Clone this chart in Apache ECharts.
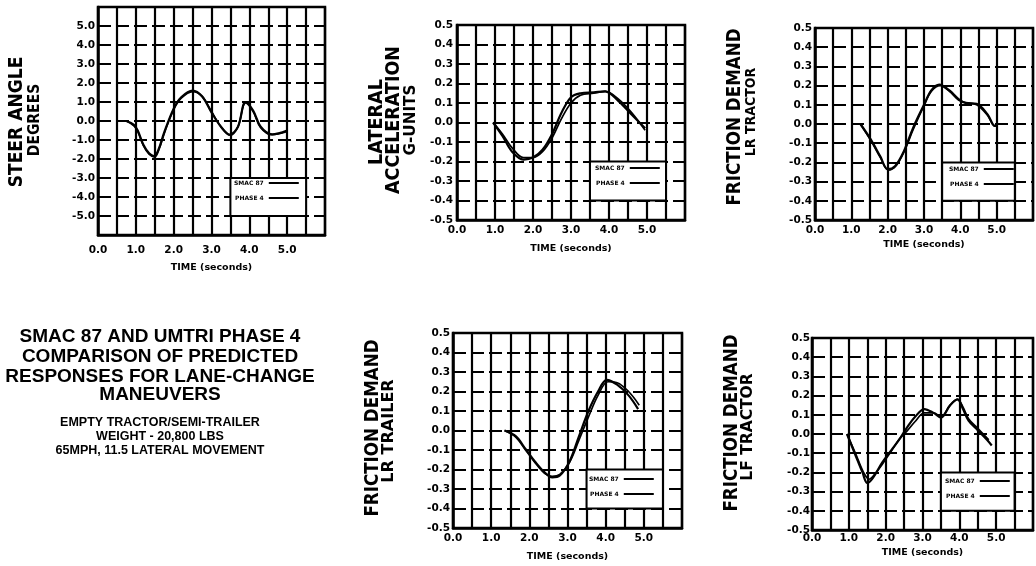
<!DOCTYPE html>
<html><head><meta charset="utf-8">
<script src="https://cdn.jsdelivr.net/npm/echarts@6/dist/echarts.min.js"></script>
<style>html,body{margin:0;padding:0;background:#fff}#c{width:1036px;height:566px}</style>
</head><body><div id="c"></div>
<script>
// ---------- DATA ----------
const seriesNames = ['SMAC 87', 'PHASE 4'];
const timeTickLabels = [0, 1, 2, 3, 4, 5];           // labelled time ticks (s)
const steerTickLabels = [-5, -4, -3, -2, -1, 0, 1, 2, 3, 4, 5];
const gTickLabels = [-0.5, -0.4, -0.3, -0.2, -0.1, 0, 0.1, 0.2, 0.3, 0.4, 0.5];

// Steer angle (degrees)  [time, value]
const steerSmac = [[0.75,0],[0.95,-0.2],[1.05,-0.5],[1.2,-1.25],[1.35,-1.7],[1.48,-1.85],[1.6,-1.5],[1.75,-0.6],[2.0,0.65],[2.2,1.25],[2.5,1.6],[2.75,1.3],[3.0,0.45],[3.25,-0.3],[3.48,-0.72],[3.7,-0.3],[3.9,1.0],[4.1,0.55],[4.3,-0.3],[4.6,-0.7],[5.0,-0.5]];
const steerPhase = [[0.75,0],[0.95,-0.25],[1.05,-0.55],[1.2,-1.3],[1.35,-1.75],[1.5,-1.9],[1.62,-1.45],[1.77,-0.55],[2.0,0.6],[2.2,1.2],[2.5,1.55],[2.75,1.3],[3.0,0.5],[3.25,-0.3],[3.5,-0.75],[3.7,-0.3],[3.9,0.95],[4.1,0.5],[4.3,-0.35],[4.6,-0.72],[5.0,-0.55]];

// Lateral acceleration (g)
const latSmac = [[0.95,0],[1.2,-0.07],[1.45,-0.15],[1.75,-0.19],[2.0,-0.18],[2.25,-0.14],[2.5,-0.06],[2.75,0.05],[3.0,0.13],[3.25,0.15],[3.6,0.155],[3.9,0.16],[4.25,0.11],[4.6,0.04],[4.95,-0.03]];
const latPhase = [[0.95,0],[1.2,-0.06],[1.45,-0.13],[1.75,-0.18],[2.0,-0.18],[2.25,-0.15],[2.5,-0.08],[2.75,0.02],[3.0,0.1],[3.25,0.14],[3.6,0.15],[3.9,0.16],[4.25,0.12],[4.6,0.05],[4.95,-0.04]];

// Friction demand LR tractor
const lrTractorSmac = [[1.25,0],[1.55,-0.085],[1.8,-0.17],[2.0,-0.235],[2.2,-0.22],[2.45,-0.14],[2.7,-0.02],[3.0,0.1],[3.2,0.175],[3.42,0.205],[3.7,0.175],[3.95,0.13],[4.15,0.11],[4.45,0.105],[4.75,0.05],[4.95,-0.01],[5.0,-0.01]];
const lrTractorPhase = [[1.25,0],[1.55,-0.09],[1.8,-0.175],[2.02,-0.24],[2.22,-0.22],[2.45,-0.145],[2.7,-0.03],[3.0,0.095],[3.2,0.17],[3.45,0.2],[3.7,0.17],[3.95,0.125],[4.15,0.11],[4.45,0.1],[4.75,0.045],[4.95,-0.01],[5.0,-0.01]];

// Friction demand LR trailer
const lrTrailerSmac = [[1.35,0],[1.65,-0.03],[1.9,-0.095],[2.15,-0.16],[2.4,-0.215],[2.6,-0.24],[2.8,-0.23],[3.05,-0.16],[3.3,-0.03],[3.55,0.1],[3.8,0.2],[4.03,0.26],[4.3,0.235],[4.6,0.18],[4.85,0.11]];
const lrTrailerPhase = [[1.35,0],[1.65,-0.035],[1.9,-0.1],[2.15,-0.165],[2.4,-0.22],[2.6,-0.235],[2.8,-0.225],[3.05,-0.165],[3.3,-0.05],[3.55,0.07],[3.8,0.18],[4.06,0.25],[4.3,0.245],[4.6,0.2],[4.88,0.13]];

// Friction demand LF tractor
const lfTractorSmac = [[0.95,0],[1.2,-0.12],[1.37,-0.2],[1.5,-0.255],[1.65,-0.23],[1.9,-0.15],[2.15,-0.085],[2.4,-0.02],[2.6,0.04],[2.8,0.09],[3.05,0.13],[3.3,0.11],[3.5,0.085],[3.75,0.15],[3.95,0.18],[4.1,0.13],[4.25,0.07],[4.5,0.02],[4.75,-0.03],[4.88,-0.06]];
const lfTractorPhase = [[0.95,0],[1.2,-0.11],[1.4,-0.2],[1.55,-0.235],[1.7,-0.21],[1.9,-0.16],[2.15,-0.09],[2.4,-0.02],[2.6,0.02],[2.8,0.065],[3.05,0.11],[3.3,0.11],[3.5,0.09],[3.75,0.15],[3.95,0.18],[4.1,0.14],[4.25,0.08],[4.5,0.03],[4.8,-0.03]];

// Legend box extents [t0, t1] and [v0, v1] per panel
const legendBoxT = [3.5, 5.5];
const steerBoxV = [-3, -5];
const gBoxV = [-0.2, -0.4];

// Titles
const titleLines = ['SMAC 87 AND UMTRI PHASE 4', 'COMPARISON OF PREDICTED', 'RESPONSES FOR LANE-CHANGE', 'MANEUVERS'];
const noteLines = ['EMPTY TRACTOR/SEMI-TRAILER', 'WEIGHT - 20,800 LBS', '65MPH, 11.5 LATERAL MOVEMENT'];

// ---------- CHART ----------
const FONT = '"DejaVu Sans", sans-serif';
const fmt = v => (Math.abs(v) < 1e-9 ? 0 : v).toFixed(1);
const near = (v, arr) => arr.some(a => Math.abs(a - v) < 1e-6);

const panels = [
  {grid:{left:98, top:7, width:227, height:228}, ymin:-6, ymax:6, yint:1, yTicks:steerTickLabels, xMargin:10, nameGap:28, yMargin:3, data:[steerSmac, steerPhase], boxV:steerBoxV, leg:{left:234, top:180}},
  {grid:{left:457, top:25, width:228, height:195}, ymin:-0.5, ymax:0.5, yint:0.1, yTicks:gTickLabels, xMargin:5, nameGap:24, yMargin:4, data:[latSmac, latPhase], boxV:gBoxV, leg:{left:595, top:165}},
  {grid:{left:815, top:28, width:225, height:192}, ymin:-0.5, ymax:0.5, yint:0.1, yTicks:gTickLabels, xMargin:5, nameGap:20, yMargin:3, data:[lrTractorSmac, lrTractorPhase], boxV:gBoxV, leg:{left:949, top:166}},
  {grid:{left:453, top:333, width:229, height:195}, ymin:-0.5, ymax:0.5, yint:0.1, yTicks:gTickLabels, xMargin:5, nameGap:24, yMargin:3, data:[lrTrailerSmac, lrTrailerPhase], boxV:gBoxV, leg:{left:589, top:476}},
  {grid:{left:812, top:338, width:226, height:192}, ymin:-0.5, ymax:0.5, yint:0.1, yTicks:gTickLabels, xMargin:3, nameGap:18, yMargin:2, data:[lfTractorSmac, lfTractorPhase], boxV:gBoxV, leg:{left:945, top:478}}
];

const grids = [], xAxes = [], yAxes = [], series = [], legends = [];
panels.forEach((p, i) => {
  grids.push(Object.assign({show:true, borderColor:'#000', borderWidth:2.5, backgroundColor:'#fff'}, p.grid));
  xAxes.push({
    type:'value', gridIndex:i, min:0, max:6, interval:0.5,
    name:'TIME (seconds)', nameLocation:'middle', nameGap:p.nameGap,
    nameTextStyle:{fontFamily:FONT, fontWeight:'bold', fontSize:9.5, color:'#000'},
    axisLine:{show:true, onZero:false, lineStyle:{color:'#000', width:2.5}},
    axisTick:{show:false},
    axisLabel:{margin:p.xMargin, fontFamily:FONT, fontWeight:'bold', fontSize:10.5, color:'#000',
      formatter: v => near(v, timeTickLabels) ? fmt(v) : ''},
    splitLine:{show:true, lineStyle:{color:'#000', width:2.2, type:'solid'}}
  });
  yAxes.push({
    type:'value', gridIndex:i, min:p.ymin, max:p.ymax, interval:p.yint,
    axisLine:{show:true, onZero:false, lineStyle:{color:'#000', width:2.5}},
    axisTick:{show:false},
    axisLabel:{margin:p.yMargin, fontFamily:FONT, fontWeight:'bold', fontSize:10.5, color:'#000',
      formatter: v => near(v, p.yTicks) ? fmt(v) : ''},
    splitLine:{show:true, lineStyle:{color:'#000', width:2, type:[13,5]}}
  });
  p.data.forEach((d, k) => {
    const s = {
      type:'line', name:seriesNames[k], xAxisIndex:i, yAxisIndex:i, data:d,
      smooth:0.35, showSymbol:false, symbol:'none',
      lineStyle:{color:'#000', width:k === 0 ? 2.2 : 1.7}, itemStyle:{color:'#000'},
      animation:false, z:3
    };
    if (k === 0) {
      s.markArea = {silent:true, itemStyle:{color:'#fff', borderColor:'#000', borderWidth:2},
        data:[[{coord:[legendBoxT[0], p.boxV[0]]}, {coord:[legendBoxT[1], p.boxV[1]]}]]};
    }
    series.push(s);
  });
  legends.push({
    data:seriesNames, left:p.leg.left, top:p.leg.top, orient:'vertical', align:'right',
    itemGap:9, itemWidth:30, itemHeight:2, icon:'rect', padding:0, selectedMode:false,
    textStyle:{fontFamily:FONT, fontWeight:'bold', fontSize:6, color:'#000'}
  });
});

function vtext(x, y, text, size, sx) {
  return {type:'text', x:x, y:y, rotation:Math.PI/2, scaleX:sx || 1,
    style:{text:text, font:'bold ' + size + 'px ' + FONT, fill:'#000', textAlign:'center', textVerticalAlign:'middle'}};
}
function htext(x, y, text, size, family) {
  return {type:'text', x:x, y:y,
    style:{text:text, font:'bold ' + size + 'px ' + (family || '"Liberation Sans", sans-serif'), fill:'#000', textAlign:'center', textVerticalAlign:'middle'}};
}

const graphics = [
  vtext(17, 122, 'STEER ANGLE', 20, 0.855), vtext(35, 120, 'DEGREES', 15.5, 0.9),
  vtext(377, 122, 'LATERAL', 20, 0.88), vtext(394, 120, 'ACCELERATION', 20, 0.875), vtext(411, 120, 'G-UNITS', 16, 0.95),
  vtext(735, 117, 'FRICTION DEMAND', 19, 0.88), vtext(751, 112, 'LR TRACTOR', 14, 0.9),
  vtext(373, 428, 'FRICTION DEMAND', 19, 0.88), vtext(389, 431, 'LR TRAILER', 15, 1.07),
  vtext(732, 423, 'FRICTION DEMAND', 19, 0.88), vtext(748, 427, 'LF TRACTOR', 15.5, 1.0)
];
const titleY = [337, 357, 377, 395];
titleLines.forEach((t, i) => graphics.push(htext(160, titleY[i], t, 19)));
const noteY = [423, 437, 451];
noteLines.forEach((t, i) => graphics.push(htext(160, noteY[i], t, 12.5)));

const chart = echarts.init(document.getElementById('c'), null, {renderer:'canvas'});
chart.setOption({
  animation:false, backgroundColor:'#fff',
  grid:grids, xAxis:xAxes, yAxis:yAxes, series:series, legend:legends, graphic:graphics
});
</script></body></html>
